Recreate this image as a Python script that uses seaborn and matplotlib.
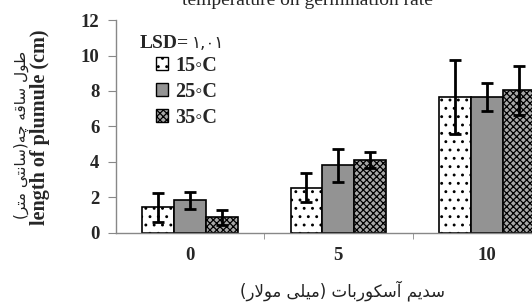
import pandas as pd
import matplotlib
matplotlib.use("Agg")
import matplotlib.pyplot as plt
import seaborn as sns
from matplotlib.patches import Patch
from matplotlib.font_manager import FontProperties

# data
concentrations = ["0", "5", "10"]
temperatures = ["15◦C", "25◦C", "35◦C"]
plumule_15 = [1.45, 2.55, 7.65]
plumule_25 = [1.85, 3.80, 7.65]
plumule_35 = [0.87, 4.10, 8.03]
err_15 = [0.82, 0.83, 2.10]
err_25 = [0.48, 0.92, 0.80]
err_35 = [0.44, 0.47, 1.40]
y_ticks = [0, 2, 4, 6, 8, 10, 12]

title_text = "temperature on germination rate"
ylabel_en = "length of plumule (cm)"
ylabel_fa = "طول ساقه چه(سانتی متر)"
xlabel_fa = "سدیم آسکوربات (میلی مولار)"
lsd_label = "LSD="
lsd_value = "۱,۰۱"

# matplotlib has no arabic shaping, so do a small one by hand
FORMS = {
    "س": "\uFEB1\uFEB2\uFEB3\uFEB4", "د": "\uFEA9\uFEAA", "ی": "\uFBFC\uFBFD\uFBFE\uFBFF",
    "م": "\uFEE1\uFEE2\uFEE3\uFEE4", "آ": "\uFE81\uFE82", "ک": "\uFB8E\uFB8F\uFB90\uFB91",
    "و": "\uFEED\uFEEE", "ر": "\uFEAD\uFEAE", "ب": "\uFE8F\uFE90\uFE91\uFE92",
    "ا": "\uFE8D\uFE8E", "ت": "\uFE95\uFE96\uFE97\uFE98", "ل": "\uFEDD\uFEDE\uFEDF\uFEE0",
    "ط": "\uFEC1\uFEC2\uFEC3\uFEC4", "ق": "\uFED5\uFED6\uFED7\uFED8",
    "ه": "\uFEE9\uFEEA\uFEEB\uFEEC", "چ": "\uFB7A\uFB7B\uFB7C\uFB7D",
    "ن": "\uFEE5\uFEE6\uFEE7\uFEE8",
}


def shape_fa(text):
    chars = list(text)
    out = []
    i = 0
    while i < len(chars):
        c = chars[i]
        if c not in FORMS:
            out.append({"(": ")", ")": "("}.get(c, c))
            i += 1
            continue
        prev = chars[i - 1] if i > 0 else None
        joins_prev = prev in FORMS and len(FORMS[prev]) == 4
        nxt = chars[i + 1] if i + 1 < len(chars) else None
        if c == "ل" and nxt == "ا":
            out.append("\uFEFC" if joins_prev else "\uFEFB")
            i += 2
            continue
        joins_next = len(FORMS[c]) == 4 and nxt in FORMS
        f = FORMS[c]
        if joins_prev and joins_next:
            out.append(f[3])
        elif joins_prev:
            out.append(f[1])
        elif joins_next:
            out.append(f[2])
        else:
            out.append(f[0])
        i += 1
    return "".join(reversed(out))


df = pd.DataFrame({
    "conc": concentrations * 3,
    "temp": [t for t in temperatures for _ in concentrations],
    "length": plumule_15 + plumule_25 + plumule_35,
    "err": err_15 + err_25 + err_35,
})

sns.set_style("white")
serif = ["Liberation Serif", "DejaVu Sans"]
plt.rcParams["hatch.linewidth"] = 0.9

fig = plt.figure(figsize=(5.32, 3.04), dpi=100)
ax = fig.add_axes([0.218, 0.234, 0.782, 0.700])

colors = ["white", "#939393", "#a8a8a8"]
sns.barplot(data=df, x="conc", y="length", hue="temp", order=concentrations,
            hue_order=temperatures, palette=colors,
            width=0.645, errorbar=None, edgecolor="black", linewidth=1.2,
            legend=False, ax=ax)

hatches = ["..", "", "xxxxx"]
bar_groups = list(ax.containers)
for j, cont in enumerate(bar_groups):
    errs = df[df["temp"] == temperatures[j]]["err"].tolist()
    xs, ys = [], []
    for bar in cont:
        bar.set_hatch(hatches[j])
        xs.append(bar.get_x() + bar.get_width() / 2)
        ys.append(bar.get_height())
    ax.errorbar(xs, ys, yerr=errs, fmt="none", ecolor="black",
                elinewidth=2.0, capsize=4.5, capthick=2.0, zorder=5)

ax.set_xlim(-0.5, 2.306)
ax.set_ylim(0, 12)
ax.set_yticks(y_ticks)
ax.set_yticklabels([str(v) for v in y_ticks], fontfamily="Liberation Serif",
                   fontweight="bold", fontsize=13.5)
ax.set_xticks([0, 1, 2])
ax.set_xticklabels(concentrations, fontfamily="Liberation Serif",
                   fontweight="bold", fontsize=13.5)
ax.set_xticks([0.5, 1.5], minor=True)
ax.tick_params(axis="x", which="major", length=0, pad=10)
ax.tick_params(axis="x", which="minor", length=4, color="#888888", direction="out", bottom=True)
ax.tick_params(axis="y", length=6, color="#888888", direction="out", left=True, pad=6)
ax.set_xlabel("")
ax.set_ylabel("")
for s in ["top", "right"]:
    ax.spines[s].set_visible(False)
for s in ["left", "bottom"]:
    ax.spines[s].set_color("#888888")
    ax.spines[s].set_linewidth(1.0)

# y labels (english + persian)
fig.text(0.076, 0.58, ylabel_en, rotation=90, ha="center", va="center",
         fontfamily="Liberation Serif", fontweight="bold", fontsize=14.5)
fig.text(0.040, 0.555, shape_fa(ylabel_fa), rotation=90, ha="center", va="center",
         fontfamily="DejaVu Sans", fontsize=11, color="#222222")
fig.text(0.643, 0.045, shape_fa(xlabel_fa), ha="center", va="center",
         fontfamily="DejaVu Sans", fontsize=12, color="#222222")

# cut-off caption on top
fig.text(0.577, 0.985, title_text, ha="center", va="baseline",
         fontfamily="Liberation Serif", fontsize=14)

lsd = fig.text(0.263, 0.858, lsd_label, ha="left", va="center",
               fontfamily="Liberation Serif", fontweight="bold", fontsize=14)
ax.annotate(lsd_value, xy=(1, 0.5), xycoords=lsd, xytext=(2, 0),
            textcoords="offset points", ha="left", va="center",
            fontfamily="DejaVu Sans", fontsize=12)

handles = [Patch(facecolor=c, edgecolor="black", hatch=h, linewidth=1)
           for c, h in zip(colors, hatches)]
ax.legend(handles, temperatures, loc="upper left", bbox_to_anchor=(0.275, 0.85),
          bbox_transform=fig.transFigure, frameon=False, handlelength=0.6,
          handleheight=0.6, handletextpad=0.35, labelspacing=0.3, borderpad=0,
          prop=FontProperties(family=serif, weight="bold", size=14.5))

fig.savefig("out.png", dpi=100)
